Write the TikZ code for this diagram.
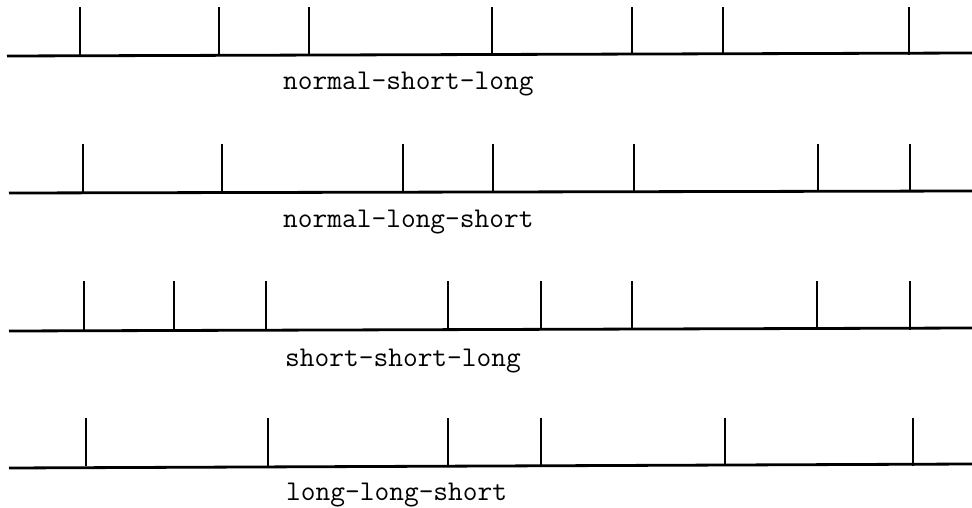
\documentclass[tikz,border=0pt]{standalone}
\begin{document}
\begin{tikzpicture}[x=1pt,y=-1pt,
  baseline/.style={line width=2.8pt},
  tick/.style={line width=2.4pt},
  lbl/.style={anchor=base west,inner sep=0pt,font=\ttfamily\fontsize{28.6}{28.6}\selectfont}]
\useasboundingbox[fill=white] (0,0) rectangle (972,508);
% row 1
\draw[baseline] (7,56) -- (972,53);
\foreach \x in {80,219,309,492,632,723,909} \draw[tick] (\x,55) -- (\x,7);
\node[lbl] (l1) at (283,90) {normal-short-long};
% row 2
\draw[baseline] (9,193) -- (972,191);
\foreach \x in {83,222,403,493,634,818,910} \draw[tick] (\x,192) -- (\x,144);
\node[lbl] (l2) at (283,227) {normal-long-short};
% row 3
\draw[baseline] (9,331) -- (972,328);
\foreach \x in {84,174,266,448,541,632,817,910} \draw[tick] (\x,330) -- (\x,281);
\node[lbl] (l3) at (285,366) {short-short-long};
% row 4
\draw[baseline] (9,468) -- (972,464);
\foreach \x in {86,268,448,541,725,913} \draw[tick] (\x,466) -- (\x,418);
\node[lbl] (l4) at (286,500) {long-long-short};
\end{tikzpicture}
\end{document}
